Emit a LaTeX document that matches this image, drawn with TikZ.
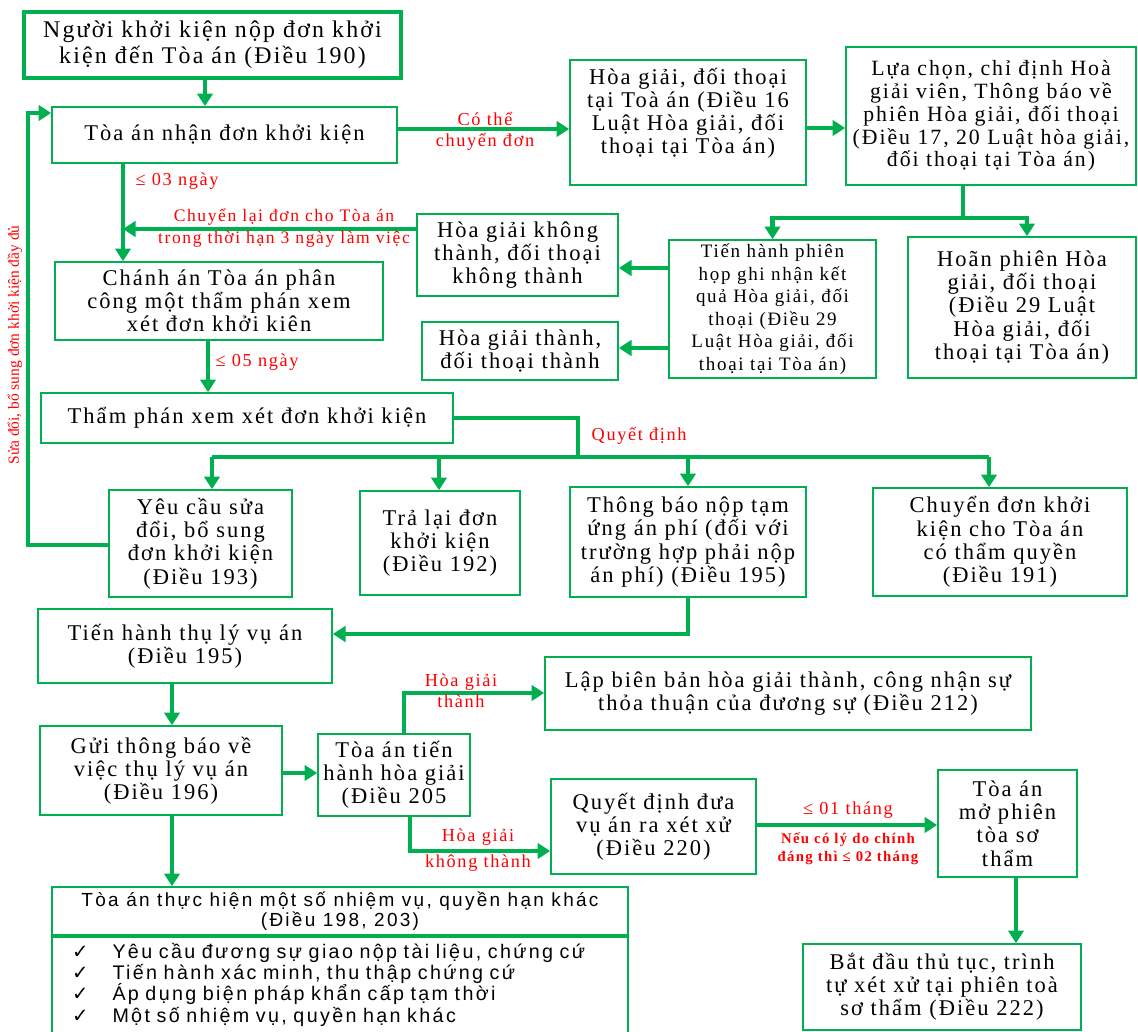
\documentclass[tikz,border=0pt]{standalone}
\usepackage{fontspec}
\setmainfont{Liberation Serif}[LetterSpace=9]
\setsansfont{Liberation Sans}[LetterSpace=12]
\newfontfamily\plainserif{Liberation Serif}
\newfontfamily\symfont{DejaVu Sans}
\usetikzlibrary{arrows.meta}
\definecolor{boxgreen}{RGB}{0,176,80}
\definecolor{notered}{RGB}{255,0,0}

\begin{document}
\begin{tikzpicture}[x=0.025cm,y=-0.025cm]
\tikzstyle{every node}=[font=\fontsize{16}{16.5}\selectfont]
\tikzstyle{box}=[draw=boxgreen, line width=1.2pt, align=center, inner sep=1pt]
\tikzstyle{line}=[draw=boxgreen, line width=3pt]
\tikzstyle{link}=[line, -{Triangle[length=9pt,width=11pt]}]
\tikzstyle{note}=[text=notered, align=center, inner sep=1pt, font=\fontsize{13}{15}\selectfont]
\tikzset{sz/.style 2 args={minimum width=#1*0.025cm, minimum height=#2*0.025cm}}

% page frame
\useasboundingbox (0,0) rectangle (1138,1032);

% boxes of the first part
\node[box, line width=2.6pt, sz={377}{66}, font=\fontsize{17}{18.5}\selectfont] (file) at (212.5,45) {Người khởi kiện nộp đơn khởi\\kiện đến Tòa án (Điều 190)};
\node[box, sz={345}{56}] (receive) at (224.5,135) {Tòa án nhận đơn khởi kiện};
\node[box, sz={236}{125}] (mediate) at (688,122.5) {Hòa giải, đối thoại\\tại Toà án (Điều 16\\Luật Hòa giải, đối\\thoại tại Tòa án)\\~};
\node[box, sz={290}{138}, font=\fontsize{15.5}{16.2}\selectfont] (choose) at (991,116) {Lựa chọn, chỉ định Hoà\\giải viên, Thông báo về\\phiên Hòa giải, đối thoại\\(Điều 17, 20 Luật hòa giải,\\đối thoại tại Tòa án)};
\node[box, sz={207}{138}, font=\fontsize{13.5}{16}\selectfont] (session) at (772.5,309) {Tiến hành phiên\\họp ghi nhận kết\\quả Hòa giải, đối\\thoại (Điều 29\\Luật Hòa giải, đối\\thoại tại Tòa án)};
\node[box, sz={228}{141}] (delay) at (1022,307.5) {Hoãn phiên Hòa\\giải, đối thoại\\(Điều 29 Luật\\Hòa giải, đối\\thoại tại Tòa án)};
\node[box, sz={201}{82}] (fail) at (517.5,255) {Hòa giải không\\thành, đối thoại\\không thành};
\node[box, sz={196}{58}] (success) at (520,351) {Hòa giải thành,\\đối thoại thành};
\node[box, sz={328}{78}] (assign) at (219,301) {Chánh án Tòa án phân\\công một thẩm phán xem\\xét đơn khởi kiên};
\node[box, sz={412}{50}] (review) at (247,418) {Thẩm phán xem xét đơn khởi kiện};

% decisions of the judge
\node[box, sz={183}{107}] (amend) at (200.5,543.5) {Yêu cầu sửa\\đổi, bổ sung\\đơn khởi kiện\\(Điều 193)};
\node[box, sz={160}{104}] (reject) at (440,543) {Trả lại đơn\\khởi kiện\\(Điều 192)};
\node[box, sz={236}{110}] (fee) at (688,542) {Thông báo nộp tạm\\ứng án phí (đối với\\trường hợp phải nộp\\án phí) (Điều 195)};
\node[box, sz={254}{108}] (transfer) at (1000,542) {Chuyển đơn khởi\\kiện cho Tòa án\\có thẩm quyền\\(Điều 191)};

% boxes of the second part
\node[box, sz={294}{74}] (accept) at (185,646) {Tiến hành thụ lý vụ án\\(Điều 195)};
\node[box, sz={242}{89}] (notify) at (161,770.5) {Gửi thông báo về\\việc thụ lý vụ án\\(Điều 196)};
\node[box, sz={152}{82}] (conciliate) at (394,775) {Tòa án tiến\\hành hòa giải\\(Điều 205};
\node[box, sz={486}{73}] (record) at (788,693.5) {Lập biên bản hòa giải thành, công nhận sự\\thỏa thuận của đương sự (Điều 212)};
\node[box, sz={205}{95}] (trial) at (653.5,826.5) {Quyết định đưa\\vụ án ra xét xử\\(Điều 220)};
\node[box, sz={139}{107}] (hearing) at (1007.5,823.5) {Tòa án\\mở phiên\\tòa sơ\\thẩm};
\node[box, sz={278}{86}] (begin) at (942,987) {Bắt đầu thủ tục, trình\\tự xét xử tại phiên toà\\sơ thẩm (Điều 222)};
\node[box, sz={576}{48}, font=\sffamily\fontsize{13.5}{14.5}\selectfont] (duties) at (340,911) {Tòa án thực hiện một số nhiệm vụ, quyền hạn khác\\(Điều 198, 203)};
\node[box, sz={576}{96}, anchor=north, align=left, text width=536*0.025cm, inner xsep=20*0.025cm, font=\sffamily\fontsize{14}{15.2}\selectfont] (dutylist) at (duties.south) {%
  {\symfont ✓}\hspace{0.6cm}Yêu cầu đương sự giao nộp tài liệu, chứng cứ\\
  {\symfont ✓}\hspace{0.6cm}Tiến hành xác minh, thu thập chứng cứ\\
  {\symfont ✓}\hspace{0.6cm}Áp dụng biện pháp khẩn cấp tạm thời\\
  {\symfont ✓}\hspace{0.6cm}Một số nhiệm vụ, quyền hạn khác};

% connectors of the first part
\draw[link] (205,0 |- file.south) -- (205,0 |- receive.north);
\draw[link] (receive.east |- 0,129) -- (mediate.west |- 0,129);
\draw[link] (mediate.east |- 0,128) -- (choose.west |- 0,128);
\coordinate (split) at (963,218);
\draw[line] (split |- choose.south) -- (split);
\draw[link] (split) -| (session.north);
\draw[link] (split) -| (1027,0 |- delay.north);
\draw[link] (session.west |- 0,268) -- (fail.east |- 0,268);
\draw[link] (session.west |- 0,348) -- (success.east |- 0,348);
\draw[link] (fail.west |- 0,229) -- (123,229);
\draw[link] (123,0 |- receive.south) -- (123,0 |- assign.north);
\draw[link] (208,0 |- assign.south) -- (208,0 |- review.north);
\coordinate (decide) at (578,457);
\draw[line] (review.east) -| (decide);
\draw[line] (212,457) -- (989,457);
\foreach \x/\to in {212/amend,439/reject,688/fee,989/transfer}
  \draw[link] (\x,457) -- (\x,0 |- \to.north);
\draw[link] (amend.west |- 0,545) -- (28,545) -- (28,113) -- (receive.west |- 0,113);
\draw[link] (688,0 |- fee.south) -- (688,634) -- (accept.east |- 0,634);

% connectors of the second part
\draw[link] (172,0 |- accept.south) -- (172,0 |- notify.north);
\draw[link] (notify.east |- 0,773) -- (conciliate.west |- 0,773);
\draw[link] (404,0 |- conciliate.north) |- (record.west |- 0,693);
\draw[link] (410,0 |- conciliate.south) |- (trial.west |- 0,851);
\draw[link] (trial.east |- 0,825) -- (hearing.west |- 0,825);
\draw[link] (1016,0 |- hearing.south) -- (1016,0 |- begin.north);
\draw[link] (172,0 |- notify.south) -- (172,0 |- duties.north);

% red labels
\node[note] (maymove) at (485,131) {Có thể\\chuyển đơn};
\node[note, anchor=west] (days3) at (134,181) {≤ 03 ngày};
\node[note, font=\fontsize{12.5}{15}\selectfont] (sendback) at (284,228) {Chuyển lại đơn cho Tòa án\\trong thời hạn 3 ngày làm việc};
\node[note, anchor=west] (days5) at (214,362) {≤ 05 ngày};
\node[note, anchor=west] (decision) at (590,436) {Quyết định};
\node[note, rotate=90, font=\plainserif\fontsize{11}{13}\selectfont] (amendnote) at (15,345) {Sửa đổi, bổ sung đơn khởi kiện đầy đủ};
\node[note] (okay) at (461,691) {Hòa giải\\thành};
\node[note, font=\fontsize{13}{19}\selectfont] (notokay) at (478,850) {Hòa giải\\không thành};
\node[note] (month1) at (848,810) {≤ 01 tháng};
\node[note, font=\bfseries\fontsize{10.5}{12.5}\selectfont] (month2) at (848,849) {Nếu có lý do chính\\đáng thì ≤ 02 tháng};

\end{tikzpicture}
\end{document}
